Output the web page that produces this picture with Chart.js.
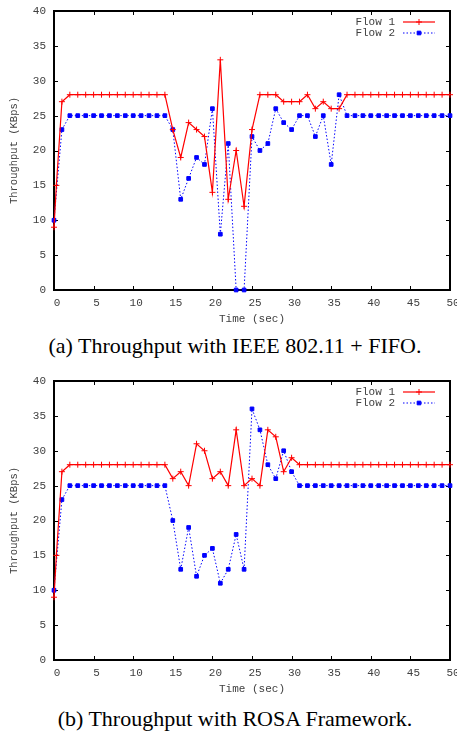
<!DOCTYPE html>
<html>
<head>
<meta charset="utf-8">
<script src="https://cdn.jsdelivr.net/npm/chart.js@4.4.1/dist/chart.umd.min.js"></script>
<style>
  body { margin: 0; width: 457px; height: 734px; background: #fff; position: relative; overflow: hidden; }
  .panel { position: absolute; left: 0; width: 457px; height: 330px; }
  .caption { position: absolute; left: 235px; transform: translateX(-50%); white-space: nowrap;
             font-family: "Liberation Serif", "Times New Roman", serif; font-size: 22px; line-height: 22px; color: #000; }
</style>
</head>
<body>
<div class="panel" style="top:0"><canvas id="chartA" width="457" height="330"></canvas></div>
<div class="caption" style="top:335px">(a) Throughput with IEEE 802.11 + FIFO.</div>
<div class="panel" style="top:370px"><canvas id="chartB" width="457" height="330"></canvas></div>
<div class="caption" style="top:708px">(b) Throughput with ROSA Framework.</div>
<script>
// sample times (sec); flow 1 has one extra early sample
const flow2Seconds = [0, 1, 2, 3, 4, 5, 6, 7, 8, 9, 10, 11, 12, 13, 14, 15, 16, 17, 18, 19, 20,
    21, 22, 23, 24, 25, 26, 27, 28, 29, 30, 31, 32, 33, 34, 35, 36, 37, 38, 39, 40,
    41, 42, 43, 44, 45, 46, 47, 48, 49, 50];
const flow1Seconds = [0, 0.3, 1, 2, 3, 4, 5, 6, 7, 8, 9, 10, 11, 12, 13, 14, 15, 16, 17, 18, 19, 20,
    21, 22, 23, 24, 25, 26, 27, 28, 29, 30, 31, 32, 33, 34, 35, 36, 37, 38, 39, 40,
    41, 42, 43, 44, 45, 46, 47, 48, 49, 50];

// (a) IEEE 802.11 + FIFO
const fifoFlow1 = [9, 15, 27, 28, 28, 28, 28, 28, 28, 28, 28, 28, 28, 28, 28, 28,
    23, 19, 24, 23, 22, 14, 33, 13, 20, 12, 23, 28, 28, 28, 27, 27, 27, 28, 26, 27, 26, 26,
    28, 28, 28, 28, 28, 28, 28, 28, 28, 28, 28, 28, 28, 28];
const fifoFlow2 = [10, 23, 25, 25, 25, 25, 25, 25, 25, 25, 25, 25, 25, 25, 25,
    23, 13, 16, 19, 18, 26, 8, 21, 0, 0, 22, 20, 21, 26, 24, 23, 25, 25, 22, 25, 18, 28,
    25, 25, 25, 25, 25, 25, 25, 25, 25, 25, 25, 25, 25, 25];

// (b) ROSA Framework
const rosaFlow1 = [9, 15, 27, 28, 28, 28, 28, 28, 28, 28, 28, 28, 28, 28, 28, 28,
    26, 27, 25, 31, 30, 26, 27, 25, 33, 25, 26, 25, 33, 32, 27, 29, 28,
    28, 28, 28, 28, 28, 28, 28, 28, 28, 28, 28, 28, 28, 28, 28, 28, 28, 28, 28];
const rosaFlow2 = [10, 23, 25, 25, 25, 25, 25, 25, 25, 25, 25, 25, 25, 25, 25,
    20, 13, 19, 12, 15, 16, 11, 13, 18, 13, 36, 33, 28, 26, 30, 27, 25,
    25, 25, 25, 25, 25, 25, 25, 25, 25, 25, 25, 25, 25, 25, 25, 25, 25, 25, 25];

const seriesNames = ['Flow 1', 'Flow 2'];
const xTicks = [0, 5, 10, 15, 20, 25, 30, 35, 40, 45, 50];
const yTicks = [0, 5, 10, 15, 20, 25, 30, 35, 40];

const MONO = '"Liberation Mono", "DejaVu Sans Mono", monospace';
const TEXT = '#404040';

const toPoints = (xs, ys) => xs.map((x, i) => ({ x: x, y: ys[i] }));

// gnuplot style box with inward ticks on all sides
const framePlugin = {
    id: 'frame',
    beforeDatasetsDraw(chart) {
        const { ctx, chartArea: a, scales } = chart;
        ctx.save();
        ctx.strokeStyle = '#000';
        ctx.lineWidth = 1;
        ctx.beginPath();
        xTicks.forEach(v => {
            const px = Math.round(scales.x.getPixelForValue(v)) + 0.5;
            ctx.moveTo(px, a.bottom); ctx.lineTo(px, a.bottom - 4);
            ctx.moveTo(px, a.top); ctx.lineTo(px, a.top + 4);
        });
        yTicks.forEach(v => {
            const py = Math.round(scales.y.getPixelForValue(v)) + 0.5;
            ctx.moveTo(a.left, py); ctx.lineTo(a.left + 4, py);
            ctx.moveTo(a.right, py); ctx.lineTo(a.right - 4, py);
        });
        ctx.stroke();
        ctx.lineWidth = 2;
        ctx.strokeRect(a.left, a.top, a.right - a.left, a.bottom - a.top);
        ctx.restore();
    },
    afterDraw(chart) {
        const { ctx, chartArea: a } = chart;
        ctx.save();
        ctx.font = '11px ' + MONO;
        ctx.textAlign = 'right';
        ctx.textBaseline = 'middle';
        chart.data.datasets.forEach((ds, i) => {
            const y = a.top + 11 + i * 11;
            ctx.fillStyle = TEXT;
            ctx.fillText(ds.label, a.right - 55, y);
            ctx.strokeStyle = ds.borderColor;
            ctx.lineWidth = ds.borderWidth;
            ctx.setLineDash(ds.borderDash || []);
            ctx.beginPath();
            ctx.moveTo(a.right - 47, y); ctx.lineTo(a.right - 15, y);
            ctx.stroke();
            ctx.setLineDash([]);
            ctx.fillStyle = ds.pointBackgroundColor;
            ctx.strokeStyle = ds.pointBorderColor;
            ctx.lineWidth = 1;
            Chart.helpers.drawPoint(ctx, { pointStyle: ds.pointStyle, radius: ds.pointRadius, borderWidth: 1 }, a.right - 31, y);
        });
        ctx.restore();
    }
};

const makeChart = (id, flow1, flow2) => {
    const ctx = document.getElementById(id).getContext('2d');
    return new Chart(ctx, {
        type: 'line',
        data: {
            datasets: [{
                label: seriesNames[0],
                data: toPoints(flow1Seconds, flow1),
                borderColor: '#ff0000',
                borderWidth: 1.2,
                pointStyle: 'cross',
                pointRadius: 3,
                pointBorderColor: '#ff0000',
                pointBackgroundColor: '#ff0000',
                pointBorderWidth: 1,
                tension: 0,
                clip: false
            }, {
                label: seriesNames[1],
                data: toPoints(flow2Seconds, flow2),
                borderColor: '#0000ff',
                borderWidth: 1,
                borderDash: [1.5, 2],
                pointStyle: 'rect',
                pointRadius: 2.6,
                pointBorderColor: '#0000ff',
                pointBackgroundColor: '#0000ff',
                pointBorderWidth: 1,
                tension: 0,
                clip: false
            }]
        },
        options: {
            responsive: false,
            animation: false,
            layout: { padding: { top: 11, right: 7, left: 0, bottom: 0 } },
            plugins: { legend: { display: false }, tooltip: { enabled: false } },
            scales: {
                x: {
                    type: 'linear',
                    min: 0,
                    max: 50,
                    afterBuildTicks: s => { s.ticks = xTicks.map(v => ({ value: v })); },
                    afterFit: s => { s.height = 40; s.paddingLeft = 0; s.paddingRight = 0; },
                    grid: { display: false, drawTicks: false },
                    border: { display: false },
                    ticks: { padding: 6, labelOffset: 3, maxRotation: 0, color: TEXT, font: { family: MONO, size: 11 } },
                    title: { display: true, text: 'Time (sec)', color: TEXT, padding: { top: 0, bottom: 4 }, font: { family: MONO, size: 11 } }
                },
                y: {
                    min: 0,
                    max: 40,
                    afterBuildTicks: s => { s.ticks = yTicks.map(v => ({ value: v })); },
                    afterFit: s => { s.width = 54; s.paddingTop = 0; s.paddingBottom = 0; },
                    grid: { display: false, drawTicks: false },
                    border: { display: false },
                    ticks: { padding: 8, color: TEXT, font: { family: MONO, size: 11 } },
                    title: { display: true, text: 'Throughput (KBps)', color: TEXT, padding: { top: 8, bottom: 0 }, font: { family: MONO, size: 10.5 } }
                }
            }
        },
        plugins: [framePlugin]
    });
};

makeChart('chartA', fifoFlow1, fifoFlow2);
makeChart('chartB', rosaFlow1, rosaFlow2);
</script>
</body>
</html>
